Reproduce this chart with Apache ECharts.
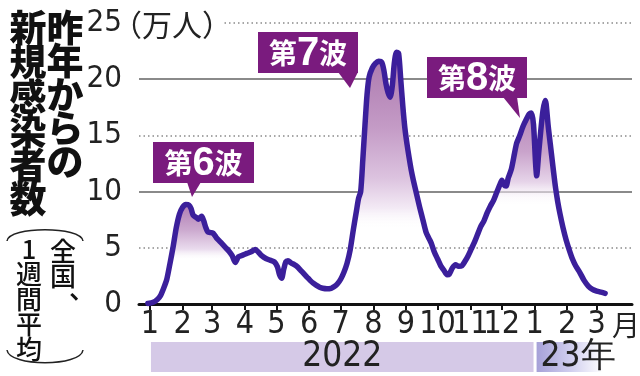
<!DOCTYPE html>
<html><head><meta charset="utf-8">
<script src="https://cdn.jsdelivr.net/npm/echarts@6/dist/echarts.min.js"></script>
<style>html,body{margin:0;padding:0;background:#fff}#c{width:640px;height:376px}</style>
</head><body><div id="c"></div>
<script>
// days since 2022-01-01
const days = [-2,3,7,10,13,16,19,22,25,28,31,34,37,39,41,44,46,49,51,53,55,58,60,63,66,69,72,75,78,81,84,88,92,96,100,103,106,110,114,118,121,123,125,127,129,131,134,137,140,143,146,149,152,155,158,161,164,168,172,175,178,181,184,187,190,193,196,198,200,202,204,206,208,211,214,217,220,222,224,226,228,230,232,234,236,238,240,242,244,246,248,250,253,256,259,262,265,267,270,273,276,279,282,284,287,290,293,296,299,302,305,308,311,314,317,320,323,326,329,332,334,336,338,340,343,346,348,351,354,357,360,362,364,366,367,369,371,373,375,376,378,380,381,383,385,387,389,392,395,398,401,404,408,412,416,420,424,428,432];
// new cases, 7-day average (10k persons)
const cases = [0.05,0.15,0.4,0.75,1.4,2.2,3.6,5.1,6.8,8.0,8.6,8.85,8.8,8.5,7.9,7.7,7.55,7.8,7.4,6.8,6.4,6.35,6.3,5.9,5.6,5.3,5.0,4.7,4.3,3.7,4.2,4.35,4.5,4.65,4.85,4.6,4.3,4.05,3.9,3.75,3.3,2.6,2.3,3.1,3.75,3.85,3.65,3.5,3.3,3.0,2.7,2.4,2.1,1.85,1.65,1.5,1.4,1.35,1.4,1.55,1.8,2.2,2.8,3.6,4.8,6.6,8.3,9.4,10.0,12.8,15.8,18.6,20.2,21.0,21.4,21.6,21.5,20.8,19.6,18.8,18.4,19.4,21.5,22.4,22.3,20.0,17.6,15.6,14.2,13.0,11.9,11.0,9.8,8.6,7.5,6.4,5.8,5.4,4.6,4.0,3.4,3.0,2.6,2.65,3.2,3.5,3.35,3.4,3.8,4.3,4.9,5.5,6.2,6.9,7.4,8.1,8.7,9.2,9.9,10.6,11.0,10.6,10.5,11.2,12.0,13.4,14.3,15.0,15.8,16.4,16.9,17.0,16.0,12.5,11.4,13.5,15.5,17.2,18.1,17.8,15.8,14.2,13.4,11.8,10.3,9.1,8.1,6.8,5.7,4.8,4.0,3.4,2.8,2.1,1.6,1.3,1.15,1.05,0.95];
const monthTickDays = [0,31,59,90,120,151,181,212,243,273,304,334,365,396,424];
const monthLabels = ['1','2','3','4','5','6','7','8','9','10','11','12','1','2','3'];
const yTicks = [0,5,10,15,20,25];
const waveNames = ['第6波','第7波','第8波'];
const waveRanges = [[16,84],[193,262],[326,392]];
const yearLabels = ['2022','23年'];
const yearRanges = [[0,365],[366,430]];

const NARROW = '"Liberation Sans Narrow","Arial Narrow","DejaVu Sans Condensed","Liberation Sans",sans-serif';
const CJK = '"Noto Sans CJK JP","Noto Sans CJK SC",sans-serif';
const lineData = days.map((d,i)=>[d,cases[i]]);

const waveGrad = [
  [[0,'#b07db3'],[0.25,'#cba8ce'],[0.45,'#eadcee'],[0.56,'rgba(255,255,255,0)']],
  [[0,'#ab77ad'],[0.3,'#c49bc6'],[0.5,'#dcc3df'],[0.62,'#f3eaf5'],[0.7,'rgba(255,255,255,0)']],
  [[0,'#b07db3'],[0.25,'#c9a3cb'],[0.4,'#e6d4e9'],[0.52,'rgba(255,255,255,0)']]
];
const areaSeries = waveRanges.map((r,k)=>({
  type:'line', smooth:0.25, symbol:'none', z:1, silent:true,
  data: lineData.filter(p=>p[0]>=r[0]&&p[0]<=r[1]),
  lineStyle:{width:0},
  areaStyle:{opacity:1,color:{type:'linear',x:0,y:0,x2:0,y2:1,
    colorStops:waveGrad[k].map(s=>({offset:s[0],color:s[1]}))}}
}));

const chart = echarts.init(document.getElementById('c'));
chart.setOption({
  animation:false,
  grid:{left:139,right:8,top:23,bottom:72},
  xAxis:{type:'value',min:-10.4,max:457.5,
    axisLine:{show:true,lineStyle:{color:'#111',width:3}},
    axisTick:{show:true,customValues:monthTickDays,length:6,lineStyle:{color:'#111',width:2}},
    axisLabel:{customValues:monthTickDays,formatter:v=>monthLabels[monthTickDays.indexOf(v)],
      fontSize:32,fontFamily:NARROW,color:'#222',margin:5},
    splitLine:{show:false}},
  yAxis:[
    {type:'value',min:0,max:25,interval:5,
      axisLine:{show:false},axisTick:{show:false},
      axisLabel:{fontSize:31,fontFamily:NARROW,color:'#222',margin:17},
      splitLine:{show:true,lineStyle:{color:'#8a8a8a',width:1.5,type:[1.5,3]}}},
    {type:'value',min:0,max:25,interval:5,position:'left',
      axisLine:{show:false},axisTick:{show:false},axisLabel:{show:false},
      splitLine:{show:true,lineStyle:{color:['transparent','transparent','#8a8a8a','transparent','#8a8a8a','transparent'],width:2}}}
  ],
  series:[...areaSeries,{
    type:'line',smooth:0.25,symbol:'none',z:3,data:lineData,
    lineStyle:{color:'#3b1f9b',width:5.5,cap:'round',join:'round'}
  }]
});

const px = d=>chart.convertToPixel({xAxisIndex:0},d);
const b1 = [px(yearRanges[0][0])+1, px(yearRanges[0][1])-1];
const b2 = [px(yearRanges[1][0])+1, px(yearRanges[1][1])];
const BOX = '#7a1b7e';
function waveLabel(x,y,w,h,tri,txt){
  return [
    {type:'rect',z:100,shape:{x:x,y:y,width:w,height:h},style:{fill:BOX}},
    {type:'polygon',z:100,shape:{points:tri},style:{fill:BOX}},
    {type:'text',z:101,x:x+w/2,y:y+h/2+1,style:{
      text:'{a|'+txt[0]+'}{b|'+txt[1]+'}{a|'+txt[2]+'}',
      align:'center',verticalAlign:'middle',
      rich:{a:{fontSize:28,fontFamily:CJK,fontWeight:'bold',fill:'#fff'},
            b:{fontSize:40,fontFamily:'"Liberation Sans",Arial,sans-serif',fontWeight:'bold',fill:'#fff'}}}}
  ];
}
const g = [
  // title
  {type:'text',x:65,y:11,style:{text:'昨\n年\nか\nら\nの',font:'900 37px '+CJK,fill:'#111',align:'center',verticalAlign:'top',lineHeight:33.5}},
  {type:'text',x:28,y:11,style:{text:'新\n規\n感\n染\n者\n数',font:'900 37px '+CJK,fill:'#111',align:'center',verticalAlign:'top',lineHeight:34.2}},
  {type:'bezierCurve',shape:{x1:7,y1:241,cpx1:9,cpy1:226,cpx2:81,cpy2:226,x2:83,y2:241},style:{stroke:'#222',lineWidth:1.5,fill:null}},
  {type:'bezierCurve',shape:{x1:7,y1:350,cpx1:9,cpy1:367,cpx2:81,cpy2:367,x2:83,y2:350},style:{stroke:'#222',lineWidth:1.5,fill:null}},
  {type:'text',x:63,y:239,style:{text:'全\n国',font:'500 26px '+CJK,fill:'#111',align:'center',verticalAlign:'top',lineHeight:25}},
  {type:'text',x:69,y:276,style:{text:'、',font:'500 26px '+CJK,fill:'#111',align:'left',verticalAlign:'top',lineHeight:26}},
  {type:'text',x:29,y:237,style:{text:'1\n週\n間\n平\n均',font:'500 26px '+CJK,fill:'#111',align:'center',verticalAlign:'top',lineHeight:25}},
  // unit
  {type:'rect',z:50,shape:{x:124,y:12,width:98,height:24},style:{fill:'#fff'}},
  {type:'text',z:51,x:112,y:25,style:{text:'（万人）',font:'30px '+CJK,fill:'#222',align:'left',verticalAlign:'middle'}},
  // month suffix
  {type:'text',x:626,y:325,style:{text:'月',font:'28px '+CJK,fill:'#222',align:'center',verticalAlign:'middle'}},
  // year bands
  {type:'rect',shape:{x:b1[0],y:342,width:b1[1]-b1[0],height:30},style:{fill:'#d5c9e7'}},
  {type:'text',x:(b1[0]+b1[1])/2,y:357,style:{text:yearLabels[0],font:'35px '+NARROW,fill:'#222',align:'center',verticalAlign:'middle'}},
  {type:'rect',shape:{x:b2[0],y:342,width:b2[1]-b2[0],height:30},style:{fill:{type:'linear',x:0,y:0,x2:1,y2:0,colorStops:[{offset:0,color:'#a6a1d8'},{offset:0.5,color:'#cfcdee'},{offset:1,color:'#ffffff'}]}}},
  {type:'text',x:b2[0]+4,y:357,style:{text:yearLabels[1],font:'35px '+NARROW,fill:'#222',align:'left',verticalAlign:'middle'}},
  ...waveLabel(153,142,101,41,[[187,182],[201,182],[192,197]],[waveNames[0][0],waveNames[0][1],waveNames[0][2]]),
  ...waveLabel(258,32,100,41,[[338,72],[358,72],[350,88]],[waveNames[1][0],waveNames[1][1],waveNames[1][2]]),
  ...waveLabel(427,57,100,41,[[503,97],[517,97],[520,118]],[waveNames[2][0],waveNames[2][1],waveNames[2][2]])
];
chart.setOption({graphic:{elements:g}});
</script></body></html>
